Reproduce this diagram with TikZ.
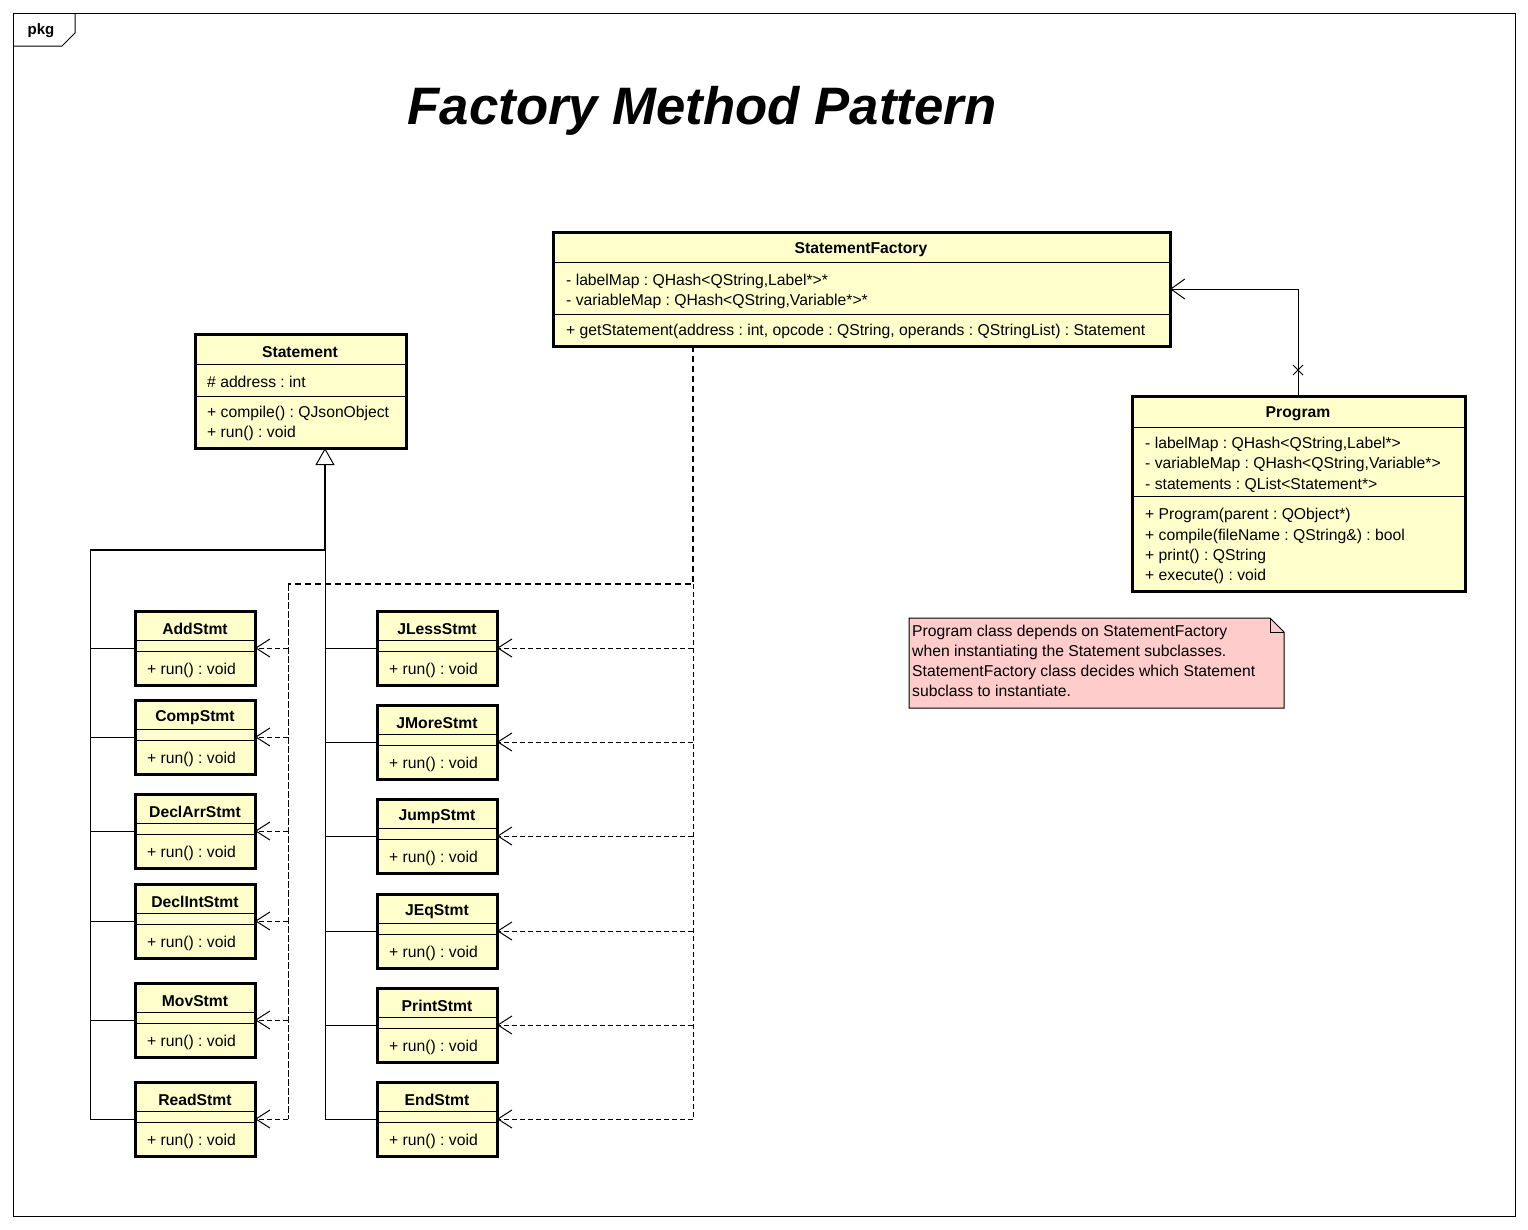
\documentclass[tikz,border=0pt]{standalone}
\usepackage{fontspec}
\setmainfont{Liberation Sans}
\usetikzlibrary{arrows.meta,calc}
\definecolor{clsfill}{RGB}{255,255,204}
\definecolor{notefill}{RGB}{255,204,204}
\frenchspacing
\tikzset{
 clsbox/.style={draw, fill=clsfill, line width=3pt, rectangle, inner sep=0pt, outer sep=0pt},
 sepline/.style={line width=1pt},
 nm/.style={font=\fontsize{15.7}{18}\selectfont\bfseries, inner sep=0pt, yshift=-2pt},
 mem/.style={font=\fontsize{15.7}{18}\selectfont, inner sep=0pt, anchor=west, yshift=-2pt},
 genl/.style={line width=1pt},
 depl/.style={line width=1pt, dash pattern=on 5pt off 3pt},
 depthick/.style={line width=1.9pt, dash pattern=on 6pt off 4pt},
 deptip/.style={-{Straight Barb[length=14pt,width=18pt]}},
}
\newcommand\stmtbox[4]{%
 \node[clsbox, minimum width=120pt, minimum height=74pt, anchor=north west] (#1) at (#2+1,#3+1) {};
 \draw[sepline] (#2,#3+30) -- (#2+122,#3+30);
 \draw[sepline] (#2,#3+41) -- (#2+122,#3+41);
 \node[nm] (#1-n) at (#2+61,#3+17) {#4};
 \node[mem] (#1-r) at (#2+13,#3+58) {+ run() : void};
}
\begin{document}
\begin{tikzpicture}[x=1pt,y=-1pt]
\useasboundingbox (0,0) rectangle (1528,1229);
\fill[white] (0,0) rectangle (1528,1229);
% frame
\draw[line width=1pt] (13,13) rectangle (1515,1216);
\draw[line width=1pt] (13,46) -- (62,46) -- (75,33) -- (75,13);
\node[font=\fontsize{15}{18}\selectfont\bfseries, inner sep=0pt] (pkg) at (41,31) {pkg};
% title
\node[font=\fontsize{52.7}{60}\selectfont\bfseries\itshape, inner sep=0pt] (title) at (702,111) {Factory Method Pattern};

% StatementFactory
\node[clsbox, minimum width=617pt, minimum height=114pt, anchor=north west] (sf) at (553,232) {};
\draw[sepline] (552,262) -- (1171,262);
\draw[sepline] (552,314) -- (1171,314);
\node[nm] (sf-n) at (861,248) {StatementFactory};
\node[mem] (sf-a1) at (566,279) {- labelMap : QHash<QString,Label*>*};
\node[mem] (sf-a2) at (566,299) {- variableMap : QHash<QString,Variable*>*};
\node[mem] (sf-o1) at (566,329) {+ getStatement(address : int, opcode : QString, operands : QStringList) : Statement};

% Statement
\node[clsbox, minimum width=211pt, minimum height=114pt, anchor=north west] (stmt) at (195,334) {};
\draw[sepline] (194,364) -- (407,364);
\draw[sepline] (194,396) -- (407,396);
\node[nm] (stmt-n) at (300,350) {Statement};
\node[mem] (stmt-a1) at (207,380) {\# address : int};
\node[mem] (stmt-o1) at (207,411) {+ compile() : QJsonObject};
\node[mem] (stmt-o2) at (207,431) {+ run() : void};

% Program
\node[clsbox, minimum width=333pt, minimum height=195pt, anchor=north west] (prog) at (1132,396) {};
\draw[sepline] (1131,427) -- (1466,427);
\draw[sepline] (1131,496) -- (1466,496);
\node[nm] (prog-n) at (1298,412) {Program};
\node[mem] (prog-a1) at (1145,442) {- labelMap : QHash<QString,Label*>};
\node[mem] (prog-a2) at (1145,462) {- variableMap : QHash<QString,Variable*>};
\node[mem] (prog-a3) at (1145,483) {- statements : QList<Statement*>};
\node[mem] (prog-o1) at (1145,513) {+ Program(parent : QObject*)};
\node[mem] (prog-o2) at (1145,534) {+ compile(fileName : QString\&) : bool};
\node[mem] (prog-o3) at (1145,554) {+ print() : QString};
\node[mem] (prog-o4) at (1145,574) {+ execute() : void};

% Note
\draw[line width=1pt, fill=notefill] (909,618) -- (1270,618) -- (1284,632) -- (1284,708) -- (909,708) -- cycle;
\draw[line width=1pt] (1270,618) -- (1270,632) -- (1284,632);
\node[font=\fontsize{15.7}{20}\selectfont, inner sep=0pt, anchor=north west, align=left] (note) at (912,624.5)
 {Program class depends on StatementFactory\\when instantiating the Statement subclasses.\\StatementFactory class decides which Statement\\subclass to instantiate.};

% Subclasses
\stmtbox{add}{134}{610}{AddStmt}
\stmtbox{comp}{134}{699}{CompStmt}
\stmtbox{declarr}{134}{793}{DeclArrStmt}
\stmtbox{declint}{134}{883}{DeclIntStmt}
\stmtbox{mov}{134}{982}{MovStmt}
\stmtbox{read}{134}{1081}{ReadStmt}
\stmtbox{jless}{376}{610}{JLessStmt}
\stmtbox{jmore}{376}{704}{JMoreStmt}
\stmtbox{jump}{376}{798}{JumpStmt}
\stmtbox{jeq}{376}{893}{JEqStmt}
\stmtbox{print}{376}{987}{PrintStmt}
\stmtbox{end}{376}{1081}{EndStmt}

% generalization
\coordinate (gj) at (325,550);
\coordinate (gl) at (90,550);
\draw[genl] (gj) -- (gl) -- (gl |- read.west) -- (read.west);
\foreach \b in {add,comp,declarr,declint,mov} \draw[genl] (gl |- \b.west) -- (\b.west);
\draw[genl] (gj) -- (gj |- end.west) -- (end.west);
\foreach \b in {jless,jmore,jump,jeq,print} \draw[genl] (gj |- \b.west) -- (\b.west);
\draw[line width=1.8pt] (gj) -- (gl);
\draw[line width=1.8pt, -{Triangle[open,length=17pt,width=19pt,fill=white,line width=1pt]}] (gj) -- (gj |- stmt.south);

% dependencies
\coordinate (dj) at (693,584);
\coordinate (dl) at (288,584);
\draw[depthick] (dj |- sf.south) -- (dj) -- (dl);
\draw[depl] (dj) -- (dj |- end.east);
\draw[line width=1pt, dash pattern=on 7pt off 2pt] (dl) -- (dl |- read.east);
\foreach \b in {jless,jmore,jump,jeq,print,end} \draw[depl,deptip] (dj |- \b.east) -- (\b.east);
\foreach \b in {add,comp,declarr,declint,mov,read} \draw[depl,deptip] (dl |- \b.east) -- (\b.east);

% association
\draw[line width=1pt, -{Straight Barb[length=14pt,width=20pt]}] (prog.north) |- (sf.east);
\coordinate (xm) at (1298,370);
\draw[line width=1pt] ($(xm)+(-5,-5)$) -- ($(xm)+(5,5)$) ($(xm)+(-5,5)$) -- ($(xm)+(5,-5)$);
\end{tikzpicture}
\end{document}
